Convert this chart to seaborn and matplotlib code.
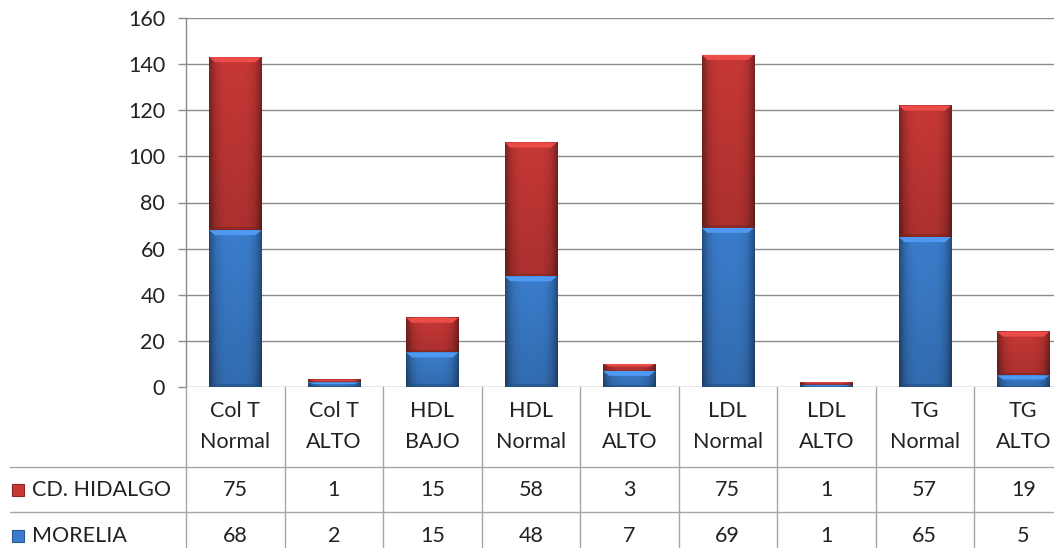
import numpy as np
import matplotlib
matplotlib.use("Agg")
import matplotlib.pyplot as plt
from matplotlib.patches import Polygon, Rectangle
from matplotlib.transforms import blended_transform_factory
import seaborn as sns

# Lipid profile categories (two-line labels) and counts per city
categories = ["Col T\nNormal", "Col T\nALTO", "HDL\nBAJO", "HDL\nNormal", "HDL\nALTO",
              "LDL\nNormal", "LDL\nALTO", "TG\nNormal", "TG\nALTO"]
hidalgo = [75, 1, 15, 58, 3, 75, 1, 57, 19]
morelia = [68, 2, 15, 48, 7, 69, 1, 65, 5]
series_names = ["CD. HIDALGO", "MORELIA"]
yticks = [0, 20, 40, 60, 80, 100, 120, 140, 160]

RED = (0.78, 0.22, 0.21)
BLUE = (0.23, 0.49, 0.80)
GRID = "#8c8c8c"
TABLE_LINE = "#a6a6a6"
TEXT = "#222222"
FS = 15.5

sns.set_theme(style="white")
plt.rcParams["font.family"] = ["Lato", "DejaVu Sans"]

W, H = 1054, 548
fig = plt.figure(figsize=(W / 100, H / 100), dpi=100)
col_w = 98.5
ax_left, ax_top, ax_bottom = 186, 18, 387
ax = fig.add_axes([ax_left / W, 1 - ax_bottom / H, 9 * col_w / W, (ax_bottom - ax_top) / H])

totals = [h + m for h, m in zip(hidalgo, morelia)]
x = np.arange(len(categories))
bar_w = 0.53

# stacked bars: full height in red, lower segment in blue on top of it
sns.barplot(x=x, y=totals, color=RED, width=bar_w, saturation=1, ax=ax,
            native_scale=True, linewidth=0, zorder=2)
sns.barplot(x=x, y=morelia, color=BLUE, width=bar_w, saturation=1, ax=ax,
            native_scale=True, linewidth=0, zorder=2)

ax.set_xlim(-0.5, len(categories) - 0.5)
ax.set_ylim(0, 160)
ax.set_yticks(yticks)
ax.set_yticklabels([str(v) for v in yticks], fontsize=FS, color=TEXT)
ax.set_xticks([])
ax.set_xlabel("")
ax.set_ylabel("")
for s in ["top", "right", "bottom"]:
    ax.spines[s].set_visible(False)
ax.spines["left"].set_color(GRID)
ax.spines["left"].set_linewidth(1.0)
ax.tick_params(axis="y", length=6, width=1, color=GRID, direction="out", pad=9, left=True)
for v in yticks:
    ax.axhline(v, color=GRID, lw=1.0, zorder=1)

# bevel shading on each bar segment
px_per_unit = (ax_bottom - ax_top) / 160.0
bevel = 5 / px_per_unit
t = np.linspace(0, 1, 64)
edge = np.clip(np.abs(t - 0.5) * 2, 0, 1) ** 4
for i in range(len(categories)):
    segs = [(0, morelia[i], BLUE), (morelia[i], totals[i], RED)]
    for y0, y1, col in segs:
        if y1 <= y0:
            continue
        x0, x1 = x[i] - bar_w / 2, x[i] + bar_w / 2
        vy = np.linspace(0, 1, 64)[:, None]
        shade = 1.0 - 0.40 * edge[None, :] - 0.14 * (1 - vy)
        img = np.clip(np.array(col)[None, None, :] * shade[:, :, None], 0, 1)
        ax.imshow(img, extent=[x0, x1, y0, y1], origin="lower", aspect="auto",
                  interpolation="bilinear", zorder=3)
        h = y1 - y0
        b = min(bevel, h * 0.35)
        light = tuple(min(1, c * 1.12 + 0.05) for c in col)
        inset = 0.06
        ax.add_patch(Polygon([(x0, y1), (x1, y1), (x1 - inset, y1 - b), (x0 + inset, y1 - b)],
                             closed=True, fc=light, ec="none", zorder=4))
        dark = tuple(c * 0.6 for c in col)
        ax.add_patch(Rectangle((x0, y0), x1 - x0, min(h * 0.12, 1.2), fc=dark, ec="none",
                               alpha=0.5, zorder=4))

# data table below the axes
trans = blended_transform_factory(ax.transData, fig.transFigure)
def fy(py):
    return 1 - py / H

row1_line, row2_line = 467, 512
for k in range(len(categories) + 1):
    xb = k - 0.5
    fig.add_artist(plt.Line2D([xb, xb], [fy(ax_bottom), fy(H)], transform=trans,
                              color=TABLE_LINE, lw=1.0))
for py in (row1_line, row2_line):
    fig.add_artist(plt.Line2D([10 / W, 1.0], [fy(py), fy(py)], transform=fig.transFigure,
                              color=TABLE_LINE, lw=1.0))

for i, cat in enumerate(categories):
    top, bot = cat.split("\n")
    fig.text(x[i], fy(411), top, transform=trans, ha="center", va="center",
             fontsize=FS, color=TEXT)
    fig.text(x[i], fy(442), bot, transform=trans, ha="center", va="center",
             fontsize=FS, color=TEXT)
    fig.text(x[i], fy(490), str(hidalgo[i]), transform=trans, ha="center", va="center",
             fontsize=FS, color=TEXT)
    fig.text(x[i], fy(536), str(morelia[i]), transform=trans, ha="center", va="center",
             fontsize=FS, color=TEXT)

# legend keys and series names in the row headers
for name, col, py in [(series_names[0], RED, 490), (series_names[1], BLUE, 536)]:
    fig.add_artist(Rectangle((12 / W, fy(py + 6)), 12 / W, 12 / H, transform=fig.transFigure,
                             fc=col, ec=tuple(c * 0.7 for c in col), lw=0.8))
    fig.text(32 / W, fy(py), name, ha="left", va="center", fontsize=FS, color=TEXT)

fig.savefig("out.png", dpi=100)
